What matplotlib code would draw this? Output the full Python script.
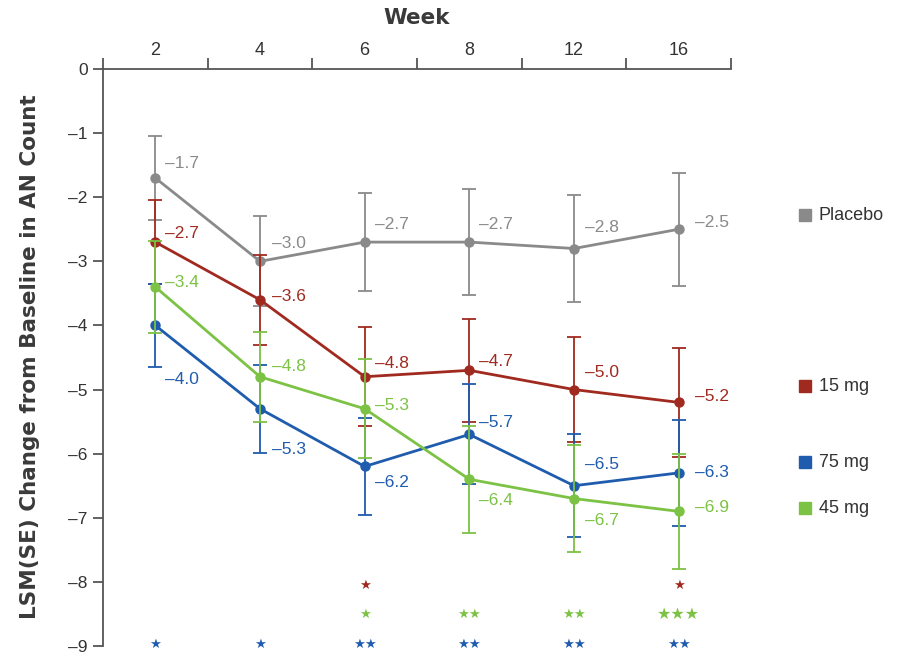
import numpy as np
import matplotlib
matplotlib.use("Agg")
import matplotlib.pyplot as plt
from matplotlib import font_manager as fm
from matplotlib.transforms import blended_transform_factory

# ---- data -------------------------------------------------------------
weeks = ["2", "4", "6", "8", "12", "16"]

placebo = [-1.7, -3.0, -2.7, -2.7, -2.8, -2.5]
mg15 = [-2.7, -3.6, -4.8, -4.7, -5.0, -5.2]
mg75 = [-4.0, -5.3, -6.2, -5.7, -6.5, -6.3]
mg45 = [-3.4, -4.8, -5.3, -6.4, -6.7, -6.9]

placebo_se = [0.66, 0.70, 0.77, 0.83, 0.83, 0.88]
mg15_se = [0.65, 0.70, 0.77, 0.80, 0.82, 0.85]
mg75_se = [0.65, 0.69, 0.75, 0.78, 0.80, 0.83]
mg45_se = [0.72, 0.70, 0.77, 0.83, 0.83, 0.90]

stars_15 = ["", "", "★", "", "", "★"]
stars_45 = ["", "", "★", "★★", "★★", "★★★"]
stars_75 = ["★", "★", "★★", "★★", "★★", "★★"]

yticks = [0, -1, -2, -3, -4, -5, -6, -7, -8, -9]

# ---- style ------------------------------------------------------------
names = {f.name for f in fm.fontManager.ttflist}
NARROW = "Liberation Sans Narrow" if "Liberation Sans Narrow" in names else "Liberation Sans"

GRAY, RED, BLUE, GREEN = "#8a8a8a", "#a02a20", "#1f5cad", "#7cc244"
AXIS = "#555555"

# label offsets in pixels (dx right, dy down)
label_dx = [10, 12, 10, 10, 11, 16]
series = [
    ("Placebo", placebo, placebo_se, GRAY, [-14, -18, -18, -18, -21, -7], -2.28),
    ("15 mg", mg15, mg15_se, RED, [-9, -3, -13, -9, -17, -6], -4.95),
    ("75 mg", mg75, mg75_se, BLUE, [54, 41, 16, -12, -21, 0], -6.13),
    ("45 mg", mg45, mg45_se, GREEN, [-4, -10, -3, 21, 22, -4], -6.85),
]

fig = plt.figure(figsize=(9.07, 6.55), dpi=100)
ax = fig.add_axes([103 / 907, 1 - 646 / 655, 628 / 907, 577 / 655])
x = np.arange(len(weeks))

for z, (name, vals, se, col, dys, leg_y) in enumerate(series):
    ax.errorbar(x, vals, yerr=se, color=col, lw=2, marker="o", ms=6.5,
                elinewidth=1.3, capsize=5, capthick=1.3, zorder=3 + z,
                clip_on=False)
    for i, v in enumerate(vals):
        ax.annotate(f"–{abs(v):.1f}", (x[i], v), xytext=(label_dx[i], -dys[i]),
                    textcoords="offset pixels", ha="left", va="center",
                    color=col, fontsize=12.5, family=NARROW, zorder=10)
    tr = blended_transform_factory(ax.transAxes, ax.transData)
    ax.plot([1.118], [leg_y], marker="s", ms=9, color=col, transform=tr,
            clip_on=False, ls="none")
    ax.text(1.140, leg_y, name, transform=tr, ha="left", va="center",
            fontsize=13, family=NARROW, color="#333333")

for row, y, col in [(stars_15, -8.05, RED), (stars_45, -8.5, GREEN),
                    (stars_75, -8.97, BLUE)]:
    for i, s in enumerate(row):
        if not s:
            continue
        big = len(s) == 3
        ax.text(x[i], y, s, ha="center", va="center", color=col,
                fontsize=11.5 if big else 9.5, fontweight="bold" if big else "normal",
                family="DejaVu Sans", clip_on=False, zorder=10)

ax.set_xlim(-0.5, 5.5)
ax.set_ylim(-9, 0)

for side in ["right", "bottom"]:
    ax.spines[side].set_visible(False)
for side in ["left", "top"]:
    ax.spines[side].set_color(AXIS)
    ax.spines[side].set_linewidth(1.3)

ax.xaxis.tick_top()
ax.set_xticks(x)
ax.set_xticklabels(weeks, family=NARROW, fontsize=13, color="#333333")
ax.set_xticks(np.arange(-0.5, 6, 1), minor=True)
ax.tick_params(axis="x", which="major", length=0, pad=7)
ax.tick_params(axis="x", which="minor", length=8, width=1.3, color=AXIS,
               direction="out")

ax.set_yticks(yticks)
ax.set_yticklabels(["0" if t == 0 else f"–{abs(t)}" for t in yticks],
                   family=NARROW, fontsize=12.5, color="#333333")
ax.tick_params(axis="y", length=7, width=1.3, color=AXIS, pad=4)

fig.text(417 / 907, 1 - 18 / 655, "Week", ha="center", va="center",
         fontsize=15.5, fontweight="bold", color="#3a3a3a")
fig.text(30 / 907, 1 - 357 / 655, "LSM(SE) Change from Baseline in AN Count",
         rotation=90, ha="center", va="center", fontsize=15.5,
         fontweight="bold", color="#3a3a3a")

fig.savefig("out.png", dpi=100)
